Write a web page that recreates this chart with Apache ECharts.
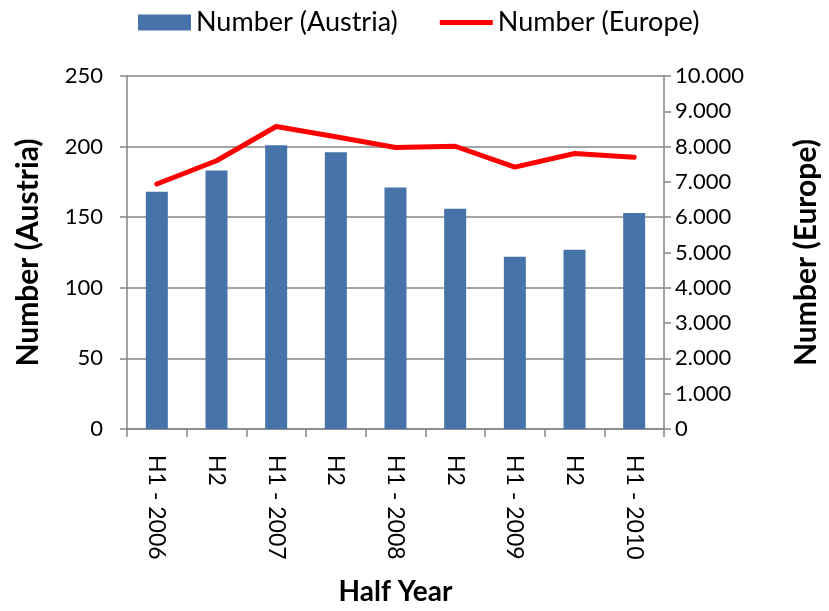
<!DOCTYPE html>
<html>
<head>
<meta charset="utf-8">
<script src="https://cdn.jsdelivr.net/npm/echarts@6/dist/echarts.min.js"></script>
<style>
  html, body { margin: 0; padding: 0; background: #fff; }
  #chart { width: 829px; height: 611px; }
</style>
</head>
<body>
<div id="chart"></div>
<script>
// values
const halfYears = ['H1 - 2006', 'H2', 'H1 - 2007', 'H2', 'H1 - 2008', 'H2', 'H1 - 2009', 'H2', 'H1 - 2010'];
const austria = [168, 183, 201, 196, 171, 156, 122, 127, 153];
const europe = [6940, 7600, 8570, 8280, 7975, 8010, 7420, 7805, 7695];

const font = 'Lato, "Open Sans", sans-serif';
const axisGrey = '#868686';

function dotThousands(v) {
  return String(v).replace(/\B(?=(\d{3})+(?!\d))/g, '.');
}

const chart = echarts.init(document.getElementById('chart'));

chart.setOption({
  animation: false,
  backgroundColor: '#fff',
  textStyle: { fontFamily: font, color: '#000' },
  legend: {
    top: 4,
    left: 133,
    itemGap: 42,
    itemWidth: 53,
    itemHeight: 16,
    textStyle: { fontSize: 27, fontFamily: font, color: '#000' },
    data: [
      { name: 'Number (Austria)', icon: 'rect' },
      { name: 'Number (Europe)', icon: 'path://M0,0h55v5h-55z' }
    ]
  },
  grid: { left: 127, right: 157, top: 76, bottom: 178 },
  xAxis: {
    type: 'category',
    data: halfYears,
    name: 'Half Year',
    nameLocation: 'middle',
    nameGap: 149,
    nameTextStyle: { fontSize: 28, fontWeight: 'bold', fontFamily: font, color: '#000' },
    axisLine: { lineStyle: { color: axisGrey, width: 1.5 } },
    axisTick: { show: true, length: 8, alignWithLabel: false, lineStyle: { color: axisGrey, width: 1.5 } },
    axisLabel: { rotate: -90, fontSize: 23, margin: 26, color: '#000', fontFamily: font, interval: 0 }
  },
  yAxis: [
    {
      type: 'value',
      min: 0, max: 250, interval: 50,
      name: 'Number (Austria)',
      nameLocation: 'middle',
      nameGap: 84,
      nameTextStyle: { fontSize: 30, fontWeight: 'bold', fontFamily: font, color: '#000' },
      axisLine: { show: true, lineStyle: { color: axisGrey, width: 1.5 } },
      axisTick: { show: true, length: 7, lineStyle: { color: axisGrey, width: 1.5 } },
      axisLabel: { fontSize: 22, margin: 24, color: '#000', fontFamily: font },
      splitLine: { show: true, lineStyle: { color: axisGrey, width: 1.5 } }
    },
    {
      type: 'value',
      min: 0, max: 10000, interval: 1000,
      name: 'Number (Europe)',
      nameLocation: 'middle',
      nameGap: 127,
      nameRotate: 90,
      nameTextStyle: { fontSize: 30, fontWeight: 'bold', fontFamily: font, color: '#000' },
      axisLine: { show: true, lineStyle: { color: axisGrey, width: 1.5 } },
      axisTick: { show: true, length: 7, lineStyle: { color: axisGrey, width: 1.5 } },
      axisLabel: { fontSize: 22, margin: 11, color: '#000', fontFamily: font, formatter: dotThousands },
      splitLine: { show: false }
    }
  ],
  series: [
    {
      name: 'Number (Austria)',
      type: 'bar',
      yAxisIndex: 0,
      data: austria,
      barWidth: 22,
      itemStyle: { color: '#4674AA' }
    },
    {
      name: 'Number (Europe)',
      type: 'line',
      yAxisIndex: 1,
      data: europe,
      symbol: 'none',
      lineStyle: { color: '#FF0000', width: 5, cap: 'round', join: 'round' },
      itemStyle: { color: '#FF0000' }
    }
  ]
});
</script>
</body>
</html>
